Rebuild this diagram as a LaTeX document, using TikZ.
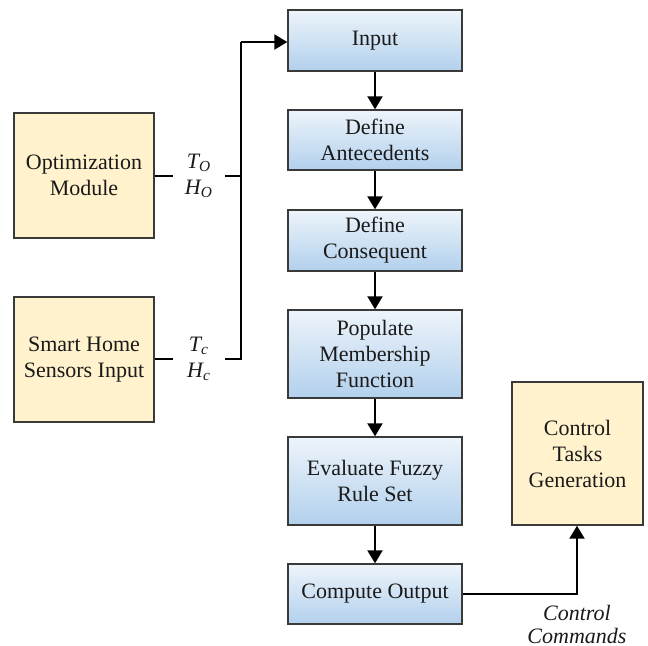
\documentclass[tikz,border=0pt]{standalone}
\usepackage{fontspec}
\setmainfont{LiberationSerif}[Extension=.ttf, UprightFont=*-Regular, ItalicFont=*-Italic, BoldFont=*-Bold]
\usetikzlibrary{arrows.meta}
\definecolor{boxline}{HTML}{3A3A3A}
\definecolor{bluetop}{HTML}{EDF4FB}
\definecolor{bluebot}{HTML}{B2D0EC}
\definecolor{beige}{HTML}{FFF2CC}
\definecolor{txt}{HTML}{1A1A1A}
\tikzset{
  every node/.style={font=\rmfamily\fontsize{11}{13}\selectfont, text=txt},
  stepbox/.style={draw=boxline, line width=0.7pt, top color=bluetop, bottom color=bluebot,
    minimum width=87pt, align=center, inner sep=2pt},
  srcbox/.style={draw=boxline, line width=0.7pt, fill=beige, align=center, inner sep=2pt},
  sig/.style={align=center, minimum width=26pt, inner sep=0pt},
  flow/.style={draw=black, line width=1.1pt, -{Triangle[length=6.5pt,width=7.5pt]}},
  wire/.style={draw=black, line width=1.1pt}
}
\begin{document}
\begin{tikzpicture}[x=0.5pt, y=-0.5pt]
\useasboundingbox (0,0) rectangle (648,645);

% processing chain
\node[stepbox, minimum height=30.5pt] (inp) at (375,40.5) {Input};
\node[stepbox, minimum height=30pt] (ante) at (375,140) {Define\\Antecedents};
\node[stepbox, minimum height=30.5pt] (cons) at (375,240.5) {Define\\Consequent};
\node[stepbox, minimum height=44pt] (memb) at (375,354) {Populate\\Membership\\Function};
\node[stepbox, minimum height=44pt] (rules) at (375,481) {Evaluate Fuzzy\\Rule Set};
\node[stepbox, minimum height=30pt] (outp) at (375,594) {Compute Output};

% sources and sink
\node[srcbox, minimum width=70pt, minimum height=62.5pt] (opt) at (84,175.5) {Optimization\\Module};
\node[srcbox, minimum width=70pt, minimum height=62.5pt] (sens) at (84,359.5) {Smart Home\\Sensors Input};
\node[srcbox, minimum width=65.5pt, minimum height=71.5pt] (ctrl) at (577.5,453.5) {Control\\Tasks\\Generation};

% signal labels
\node[sig] (lo) at (199,176) {\itshape T\textsubscript{O}\\\itshape H\textsubscript{O}};
\node[sig] (lc) at (199,359) {\itshape T\textsubscript{c}\\\itshape H\textsubscript{c}};
\node[align=center, inner sep=0pt, font=\rmfamily\itshape\fontsize{11}{11.5}\selectfont] (cmd) at (577,624) {Control\\Commands};

\coordinate (jo) at (241,176);
\coordinate (jc) at (241,359);
\coordinate (up) at (241,42);
\coordinate (turn) at (577,594);

% connectors
\draw[wire] (opt.east |- jo) -- (lo.west |- jo);
\draw[wire] (lo.east |- jo) -- (jo);
\draw[wire] (sens.east |- jc) -- (lc.west |- jc);
\draw[wire] (lc.east |- jc) -- (jc) -- (up);
\draw[flow] (up) -- (inp.west |- up);

\draw[flow] (inp) -- (ante);
\draw[flow] (ante) -- (cons);
\draw[flow] (cons) -- (memb);
\draw[flow] (memb) -- (rules);
\draw[flow] (rules) -- (outp);
\draw[flow] (outp.east) -- (turn) -- (ctrl.south -| turn);
\end{tikzpicture}
\end{document}
